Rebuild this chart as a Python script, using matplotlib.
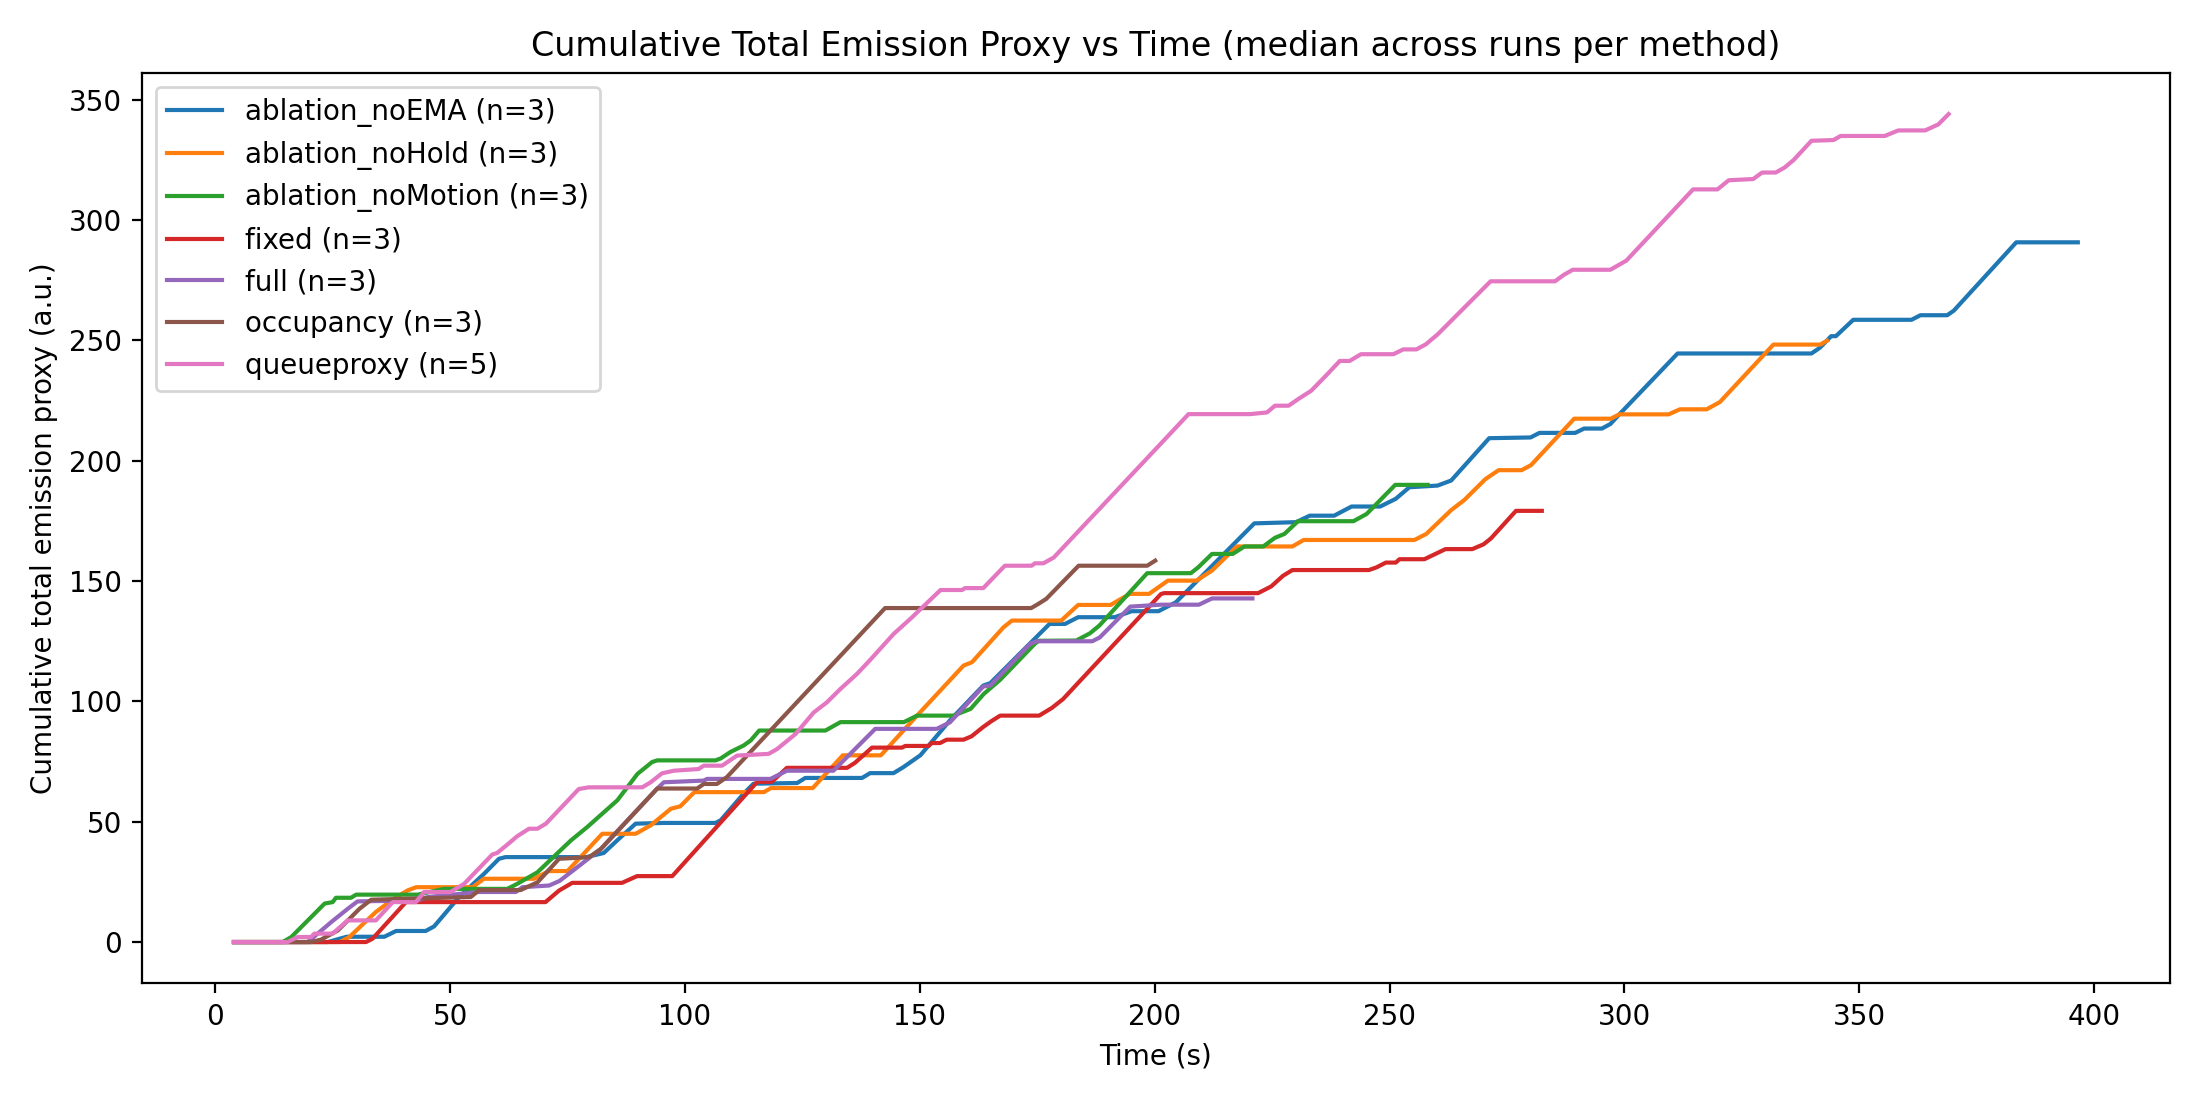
import numpy as np
import matplotlib
matplotlib.use("Agg")
import matplotlib.pyplot as plt

noema_t = [4, 24, 26.5, 28, 36, 38.5, 44.8, 46.6, 51.9, 57.2, 60.4, 61.8, 79.0, 82.7, 85.6, 89.5, 95.5, 106.5, 107.6, 112.5, 114.6, 123.9, 125.6, 137.7, 139.4, 144.4, 146.5, 150.1, 156.4, 163.5, 165.0, 177.6, 180.9, 183.7, 191.5, 195.1, 200.8, 204.5, 221.2, 230.1, 233.0, 238.2, 241.9, 248.0, 251.3, 254.2, 260.2, 263.1, 271.2, 280.0, 281.9, 289.5, 291.4, 295.2, 297.0, 298.9, 311.3, 339.8, 341.6, 344.0, 345.0, 348.7, 361.1, 363.0, 368.7, 370.1, 383.4, 396.5]
noema_v = [0, 0, 1.4, 2.2, 2.2, 4.6, 4.6, 6.5, 18.7, 28.3, 34.6, 35.3, 35.3, 37.0, 42.3, 49.2, 49.5, 49.5, 50.6, 61.7, 65.8, 66.1, 68.2, 68.2, 70.2, 70.2, 72.7, 77.6, 92.1, 106.6, 107.6, 132.2, 132.2, 135.0, 135.0, 137.5, 137.5, 141.2, 174.0, 174.5, 177.2, 177.2, 181.0, 181.0, 184.2, 189.0, 189.7, 191.8, 209.4, 209.7, 211.6, 211.6, 213.4, 213.4, 215.3, 219.3, 244.6, 244.6, 247.0, 251.8, 251.8, 258.6, 258.6, 260.5, 260.5, 262.4, 290.8, 290.8]

nohold_t = [4, 26.5, 28.5, 34.2, 38, 41, 42.8, 54.8, 57.2, 67.9, 71.0, 75.0, 82.4, 89.5, 92.7, 97.0, 99.0, 102.0, 116.8, 118.3, 127.2, 133.6, 141.7, 149.4, 159.3, 161.1, 167.8, 169.6, 180.1, 183.7, 190.6, 194.7, 198.8, 202.8, 208.9, 212.2, 217.5, 229.3, 231.7, 255.3, 257.8, 263.1, 265.9, 270.4, 273.2, 278.1, 280.1, 289.3, 297.1, 298.9, 309.4, 311.8, 317.5, 320.3, 331.7, 341.7, 343.1]
nohold_v = [0, 0, 2, 12.5, 18, 21.5, 22.8, 22.8, 26.3, 26.3, 29.5, 29.5, 45.0, 45.0, 48.5, 55.4, 56.4, 62.3, 62.3, 64.0, 64.0, 77.6, 77.6, 94.1, 114.9, 116.3, 130.8, 133.6, 133.6, 140.1, 140.1, 144.7, 144.7, 150.2, 150.2, 154.4, 164.4, 164.4, 167.1, 167.1, 169.6, 179.5, 183.7, 192.4, 196.1, 196.1, 198.2, 217.5, 217.5, 219.3, 219.3, 221.4, 221.4, 224.4, 248.3, 248.3, 249.9]

nomotion_t = [4, 14.4, 16.2, 23.3, 25.0, 25.7, 28.9, 30.0, 43.1, 48.7, 62.2, 64.3, 68.6, 75.7, 79.2, 85.6, 89.9, 93.0, 94.1, 106.5, 107.6, 109.7, 112.5, 114.0, 115.8, 129.9, 133.1, 146.6, 149.4, 157.2, 160.8, 163.6, 167.1, 174.5, 175.3, 183.3, 186.2, 188.2, 198.4, 207.7, 209.3, 212.2, 216.6, 219.1, 223.1, 225.6, 227.6, 230.5, 242.3, 245.1, 251.2, 258.1]
nomotion_v = [0, 0, 2.1, 16.0, 16.6, 18.4, 18.4, 19.7, 19.7, 22.1, 22.1, 24.2, 29.0, 42.2, 47.8, 58.9, 69.9, 74.8, 75.5, 75.5, 76.3, 79.0, 81.7, 83.8, 87.9, 87.9, 91.4, 91.4, 94.1, 94.1, 96.9, 103.1, 109.0, 124.0, 125.2, 125.3, 128.3, 131.5, 153.3, 153.3, 155.8, 161.3, 161.3, 164.4, 164.4, 168.0, 169.6, 174.9, 174.9, 177.9, 190.0, 190.0]

fixed_t = [4, 32.1, 33.5, 40.6, 70.3, 73.2, 76.0, 86.6, 89.8, 97.3, 115.4, 118.5, 121.7, 134.5, 136.2, 139.8, 146.2, 146.9, 151.9, 152.5, 154.3, 155.7, 159.3, 161.0, 163.5, 165.3, 167.1, 175.4, 178.1, 180.5, 201.3, 202.0, 222.0, 224.8, 227.3, 229.3, 245.6, 247.2, 249.2, 251.3, 252.1, 257.4, 261.9, 267.6, 270.0, 271.6, 276.9, 282.4]
fixed_v = [0, 0, 1.4, 16.6, 16.6, 21.4, 24.6, 24.6, 27.4, 27.4, 66.6, 66.6, 72.4, 72.4, 74.5, 80.8, 80.8, 81.5, 81.5, 82.7, 82.7, 84.1, 84.1, 85.5, 89.4, 91.9, 94.1, 94.1, 97.3, 101.0, 144.6, 145.0, 145.0, 147.8, 152.2, 154.6, 154.6, 155.7, 157.7, 157.7, 159.1, 159.1, 163.3, 163.3, 165.3, 167.8, 179.2, 179.2]

full_t = [4, 19.7, 24.7, 28.2, 30.3, 43.1, 45.2, 56.2, 64.0, 65.4, 71.1, 73.3, 75.7, 82.1, 94.1, 95.5, 104.0, 104.7, 118.2, 121.7, 131.6, 140.5, 153.6, 156.4, 163.5, 165.0, 173.5, 174.9, 186.7, 188.3, 194.8, 201.3, 209.4, 212.2, 220.8]
full_v = [0, 0, 8.3, 13.8, 16.9, 17.3, 18.7, 20.8, 20.8, 22.8, 23.5, 25.4, 29.0, 38.7, 63.8, 66.4, 67.1, 67.8, 67.8, 71.2, 71.2, 88.6, 88.6, 91.3, 106.2, 106.6, 124.0, 125.0, 125.0, 126.6, 139.4, 140.2, 140.2, 142.8, 142.8]

occupancy_t = [4, 20.4, 22.5, 26.1, 30.7, 33.2, 54.4, 56.2, 65.0, 68.6, 73.2, 79.6, 82.1, 94.1, 102.6, 104.0, 106.8, 108.9, 142.6, 173.7, 175.2, 176.9, 183.8, 198.4, 200.1]
occupancy_v = [0, 0, 1.0, 4.8, 13.8, 17.6, 18.7, 21.6, 21.6, 24.8, 34.6, 35.3, 38.7, 63.8, 63.8, 65.7, 65.7, 68.5, 138.8, 138.8, 140.5, 142.6, 156.4, 156.4, 158.5]

queue_t = [4, 15.4, 17.6, 20.4, 21.1, 25.0, 28.2, 34.2, 37.8, 42.7, 44.5, 50.1, 53.0, 59.0, 60.0, 62.5, 64.3, 66.8, 68.6, 70.4, 77.4, 79.5, 90.9, 92.7, 95.1, 97.6, 102.9, 104.0, 107.9, 111.1, 117.8, 119.6, 123.5, 127.4, 130.2, 133.1, 136.6, 139.4, 144.4, 148.3, 154.4, 159.0, 159.6, 163.5, 168.1, 173.8, 174.5, 176.3, 178.5, 207.2, 220.3, 223.9, 225.6, 228.5, 230.5, 233.3, 236.6, 239.4, 241.5, 243.9, 250.8, 252.9, 255.7, 257.7, 260.2, 271.5, 285.2, 287.1, 289.0, 297.0, 300.4, 314.6, 319.8, 322.2, 327.4, 329.3, 332.2, 334.1, 336.0, 339.8, 344.5, 346.0, 355.4, 358.3, 364.0, 366.8, 369.0]
queue_v = [0, 0, 2.1, 2.1, 3.5, 3.5, 9.0, 9.0, 16.6, 16.6, 20.8, 20.8, 24.2, 36.4, 37.0, 41.0, 44.0, 47.1, 47.1, 49.2, 63.6, 64.3, 64.3, 66.4, 70.1, 71.2, 71.9, 73.3, 73.3, 77.5, 78.2, 80.2, 86.4, 95.4, 99.6, 105.2, 111.4, 117.2, 128.0, 134.9, 146.3, 146.3, 147.1, 147.1, 156.4, 156.4, 157.4, 157.4, 159.8, 219.4, 219.4, 220.1, 222.9, 222.9, 225.6, 229.1, 235.7, 241.5, 241.5, 244.3, 244.3, 246.3, 246.3, 248.4, 252.5, 274.6, 274.6, 277.3, 279.4, 279.4, 283.2, 312.8, 312.8, 316.6, 317.1, 319.8, 319.8, 321.9, 325.0, 333.0, 333.3, 335.0, 335.0, 337.3, 337.3, 339.8, 344.1]

methods = ["ablation_noEMA", "ablation_noHold", "ablation_noMotion", "fixed", "full", "occupancy", "queueproxy"]
runs = [3, 3, 3, 3, 3, 3, 5]
times = [noema_t, nohold_t, nomotion_t, fixed_t, full_t, occupancy_t, queue_t]
values = [noema_v, nohold_v, nomotion_v, fixed_v, full_v, occupancy_v, queue_v]

fig, ax = plt.subplots(figsize=(11, 5.5), dpi=200)

for name, n, t, v in zip(methods, runs, times, values):
	ax.plot(t, v, label="%s (n=%d)" % (name, n))

ax.set_title("Cumulative Total Emission Proxy vs Time (median across runs per method)")
ax.set_xlabel("Time (s)")
ax.set_ylabel("Cumulative total emission proxy (a.u.)")
ax.legend(loc="upper left")

plt.tight_layout()
plt.savefig("out.png", dpi=200)
